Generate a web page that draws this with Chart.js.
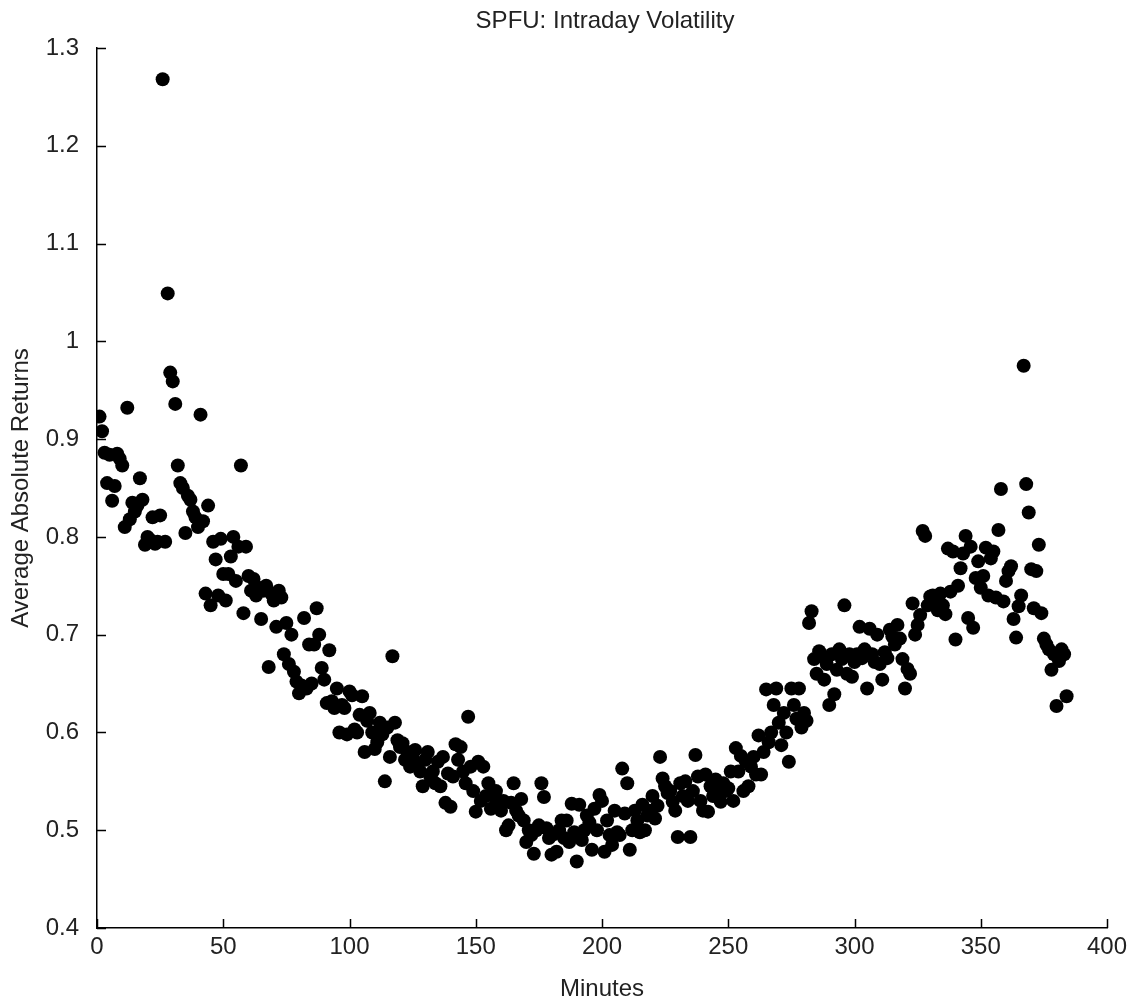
<!DOCTYPE html>
<html>
<head>
<meta charset="utf-8">
<title>SPFU: Intraday Volatility</title>
<script src="https://cdn.jsdelivr.net/npm/chart.js@4.4.0/dist/chart.umd.min.js"></script>
<style>
  html, body { margin: 0; padding: 0; background: #fff; }
  #wrap { width: 1136px; height: 1004px; }
</style>
</head>
<body>
<div id="wrap"><canvas id="volChart" width="1136" height="1004"></canvas></div>
<script>
// average absolute returns, one value per minute (1..384)
const absReturns = [
    0.923, 0.908, 0.886, 0.855, 0.884, 0.837, 0.852, 0.885, 0.880, 0.873,
    0.810, 0.932, 0.818, 0.835, 0.826, 0.832, 0.860, 0.838, 0.792, 0.800,
    0.797, 0.820, 0.793, 0.795, 0.822, 1.268, 0.795, 1.049, 0.968, 0.959,
    0.936, 0.873, 0.855, 0.850, 0.804, 0.842, 0.838, 0.826, 0.820, 0.810,
    0.925, 0.816, 0.742, 0.832, 0.730, 0.795, 0.777, 0.740, 0.798, 0.762,
    0.735, 0.762, 0.780, 0.800, 0.755, 0.790, 0.873, 0.722, 0.790, 0.760,
    0.745, 0.757, 0.740, 0.748, 0.716, 0.745, 0.750, 0.667, 0.742, 0.735,
    0.708, 0.745, 0.738, 0.680, 0.712, 0.670, 0.700, 0.662, 0.652, 0.640,
    0.648, 0.717, 0.645, 0.690, 0.650, 0.690, 0.727, 0.700, 0.666, 0.654,
    0.630, 0.684, 0.632, 0.625, 0.645, 0.600, 0.628, 0.625, 0.598, 0.642,
    0.638, 0.603, 0.600, 0.618, 0.637, 0.580, 0.612, 0.620, 0.600, 0.583,
    0.590, 0.610, 0.598, 0.550, 0.605, 0.575, 0.678, 0.610, 0.592, 0.585,
    0.589, 0.572, 0.580, 0.565, 0.575, 0.582, 0.568, 0.560, 0.545, 0.572,
    0.580, 0.555, 0.560, 0.548, 0.570, 0.545, 0.575, 0.528, 0.558, 0.524,
    0.555, 0.588, 0.572, 0.585, 0.560, 0.548, 0.616, 0.565, 0.540, 0.519,
    0.570, 0.530, 0.565, 0.535, 0.548, 0.522, 0.535, 0.540, 0.528, 0.520,
    0.530, 0.500, 0.505, 0.528, 0.548, 0.520, 0.515, 0.532, 0.510, 0.488,
    0.500, 0.495, 0.476, 0.500, 0.505, 0.548, 0.534, 0.502, 0.492, 0.475,
    0.496, 0.478, 0.500, 0.510, 0.492, 0.510, 0.488, 0.527, 0.498, 0.468,
    0.526, 0.490, 0.500, 0.515, 0.508, 0.480, 0.522, 0.500, 0.536, 0.530,
    0.478, 0.510, 0.495, 0.485, 0.520, 0.498, 0.495, 0.563, 0.517, 0.548,
    0.480, 0.500, 0.520, 0.510, 0.498, 0.526, 0.500, 0.515, 0.520, 0.535,
    0.512, 0.525, 0.575, 0.553, 0.545, 0.538, 0.540, 0.529, 0.520, 0.493,
    0.548, 0.535, 0.550, 0.530, 0.493, 0.540, 0.577, 0.555, 0.530, 0.520,
    0.557, 0.519, 0.545, 0.535, 0.552, 0.540, 0.529, 0.548, 0.540, 0.543,
    0.560, 0.530, 0.584, 0.560, 0.576, 0.540, 0.570, 0.545, 0.565, 0.575,
    0.557, 0.597, 0.557, 0.580, 0.644, 0.590, 0.600, 0.628, 0.645, 0.610,
    0.587, 0.620, 0.600, 0.570, 0.645, 0.628, 0.614, 0.645, 0.605, 0.620,
    0.612, 0.712, 0.724, 0.675, 0.660, 0.683, 0.678, 0.654, 0.670, 0.628,
    0.680, 0.639, 0.664, 0.685, 0.675, 0.730, 0.660, 0.680, 0.657, 0.672,
    0.680, 0.708, 0.676, 0.685, 0.645, 0.706, 0.680, 0.672, 0.700, 0.670,
    0.654, 0.682, 0.676, 0.705, 0.698, 0.690, 0.710, 0.696, 0.675, 0.645,
    0.665, 0.660, 0.732, 0.700, 0.710, 0.720, 0.806, 0.801, 0.730, 0.739,
    0.740, 0.735, 0.725, 0.742, 0.730, 0.721, 0.788, 0.744, 0.785, 0.695,
    0.750, 0.768, 0.783, 0.801, 0.717, 0.790, 0.707, 0.758, 0.775, 0.748,
    0.760, 0.789, 0.740, 0.778, 0.785, 0.738, 0.807, 0.849, 0.734, 0.755,
    0.765, 0.770, 0.716, 0.697, 0.729, 0.740, 0.975, 0.854, 0.825, 0.767,
    0.727, 0.765, 0.792, 0.722, 0.696, 0.690, 0.685, 0.664, 0.680, 0.627,
    0.673, 0.685, 0.680, 0.637
];
const minutes = absReturns.map((_, i) => i + 1);

const xTicks = [0, 50, 100, 150, 200, 250, 300, 350, 400];
const yTicks = [0.4, 0.5, 0.6, 0.7, 0.8, 0.9, 1.0, 1.1, 1.2, 1.3];

const chartTitle = 'SPFU: Intraday Volatility';
const xLabel = 'Minutes';
const yLabel = 'Average Absolute Returns';

const FONT = "'Liberation Sans', Arial, sans-serif";
const TEXT = '#222';

// matlab style: ticks point into the plot, title centred over the axes
const matlabAxes = {
    id: 'matlabAxes',
    afterDraw(chart) {
        const { ctx, chartArea: a, scales: { x, y } } = chart;
        ctx.save();
        ctx.strokeStyle = '#000';
        ctx.lineWidth = 1.5;
        ctx.beginPath();
        xTicks.forEach(v => {
            const px = Math.round(x.getPixelForValue(v)) + 0.5;
            ctx.moveTo(px, a.bottom); ctx.lineTo(px, a.bottom - 9);
        });
        yTicks.forEach(v => {
            const py = Math.round(y.getPixelForValue(v)) + 0.5;
            ctx.moveTo(a.left, py); ctx.lineTo(a.left + 9, py);
        });
        ctx.stroke();

        ctx.fillStyle = TEXT;
        ctx.font = '24px ' + FONT;
        ctx.textAlign = 'center';
        ctx.textBaseline = 'middle';
        ctx.fillText(chartTitle, (a.left + a.right) / 2 + 3, 21);
        ctx.restore();
    }
};

new Chart(document.getElementById('volChart'), {
    type: 'scatter',
    data: {
        datasets: [{
            label: 'SPFU',
            data: minutes.map((m, i) => ({ x: m, y: absReturns[i] })),
            backgroundColor: '#000',
            borderWidth: 0,
            pointRadius: 7,
            pointHoverRadius: 7
        }]
    },
    options: {
        responsive: false,
        animation: false,
        layout: { padding: { top: 48, right: 29, left: 0, bottom: 0 } },
        plugins: { legend: { display: false }, tooltip: { enabled: false }, title: { display: false } },
        scales: {
            x: {
                type: 'linear', min: 0, max: 400,
                afterFit: s => { s.height = 76; },
                afterBuildTicks: s => { s.ticks = xTicks.map(v => ({ value: v })); },
                ticks: { color: TEXT, font: { family: FONT, size: 24 }, padding: -3, maxRotation: 0 },
                grid: { display: false },
                border: { display: true, color: '#000', width: 1.5 },
                title: { display: true, text: xLabel, color: TEXT, font: { family: FONT, size: 24 }, padding: { top: 0, bottom: 0 } }
            },
            y: {
                type: 'linear', min: 0.4, max: 1.3,
                afterFit: s => { s.width = 97; },
                afterBuildTicks: s => { s.ticks = yTicks.map(v => ({ value: v })); },
                ticks: { color: TEXT, font: { family: FONT, size: 24 }, padding: 10, callback: v => String(+v.toFixed(1)) },
                grid: { display: false },
                border: { display: true, color: '#000', width: 1.5 },
                title: { display: true, text: yLabel, color: TEXT, font: { family: FONT, size: 24 }, padding: { top: 7, bottom: 0 } }
            }
        }
    },
    plugins: [matlabAxes]
});
</script>
</body>
</html>
